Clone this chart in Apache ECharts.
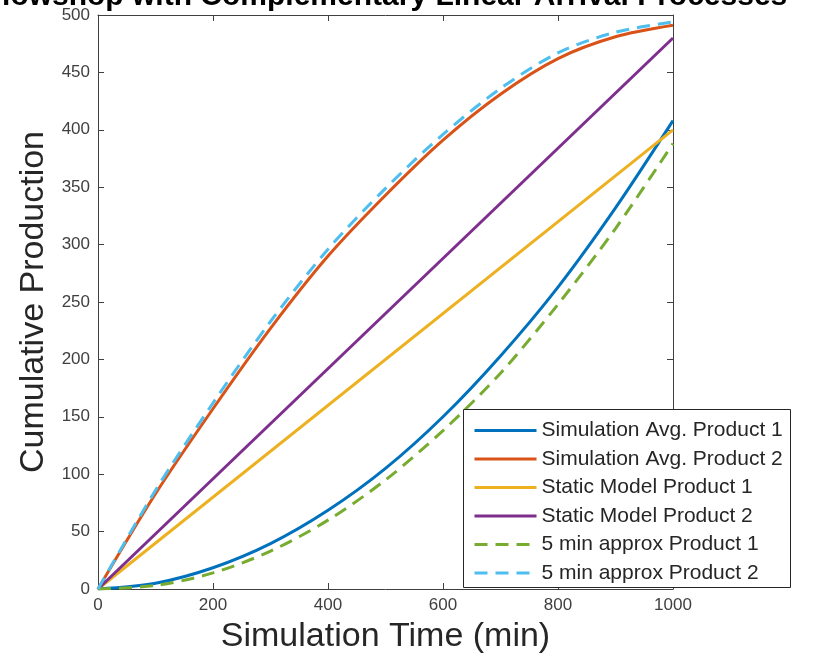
<!DOCTYPE html>
<html>
<head>
<meta charset="utf-8">
<script src="https://cdn.jsdelivr.net/npm/echarts@6/dist/echarts.min.js"></script>
<style>
html,body{margin:0;padding:0;background:#fff;}
#chart{width:813px;height:662px;}
</style>
</head>
<body>
<div id="chart"></div>
<script>
// ---- data ----
const titleText = 'Flowshop with Complementary Linear Arrival Processes';
const xName = 'Simulation Time (min)';
const yName = 'Cumulative Production';
const seriesNames = [
  'Simulation Avg. Product 1',
  'Simulation Avg. Product 2',
  'Static Model Product 1',
  'Static Model Product 2',
  '5 min approx Product 1',
  '5 min approx Product 2'
];
const timeSteps = [0, 100, 200, 300, 400, 500, 600, 700, 800, 900, 1000];
const simAvgP1 = [0, 5, 18.5, 39.5, 68.5, 105, 150, 203, 263, 332, 408];
const simAvgP2 = [0, 83, 157, 227, 290, 343, 391, 431, 462, 481, 491];
const staticTimes = [0, 1000];
const staticP1 = [0, 400];
const staticP2 = [0, 480];
const approxP1 = [0, 3, 14, 33, 60, 95, 138, 188, 248, 314, 388];
const approxP2 = [0, 86, 162, 233, 296, 349, 396, 436, 467, 485, 494];
const xTicks = {min: 0, max: 1000, interval: 200};
const yTicks = {min: 0, max: 500, interval: 50};

// ---- build ----
const pairs = (xs, ys) => xs.map((x, i) => [x, ys[i]]);
const colors = ['#0072BD', '#D95319', '#EDB120', '#7E2F8E', '#77AC30', '#4DBEEE'];
const dash = [13, 8];
const font = 'Liberation Sans, Arial, Helvetica, sans-serif';
const axisColor = '#404040';

const chart = echarts.init(document.getElementById('chart'), null, {renderer: 'canvas'});

function line() { return {show: true, onZero: false, lineStyle: {color: axisColor, width: 1}}; }
function tick() { return {show: true, inside: true, length: 6, lineStyle: {color: axisColor, width: 1}}; }
function label() {
  return {show: true, fontFamily: font, fontSize: 17, color: axisColor, margin: 8,
          formatter: v => String(v)};
}

function mkSeries(i, data, dashed) {
  return {
    name: seriesNames[i],
    type: 'line',
    data: data,
    smooth: data.length > 2 ? 0.3 : false,
    symbol: 'none',
    showSymbol: false,
    animation: false,
    lineStyle: {color: colors[i], width: 3, type: dashed ? dash : 'solid', cap: 'butt'},
    itemStyle: {color: colors[i]},
    emphasis: {disabled: true},
    z: 2
  };
}

const option = {
  animation: false,
  backgroundColor: '#fff',
  grid: {left: 98, right: 140, top: 15, bottom: 73, containLabel: false},
  xAxis: [{
    type: 'value', position: 'bottom', min: xTicks.min, max: xTicks.max, interval: xTicks.interval,
    name: xName, nameLocation: 'middle', nameGap: 31,
    nameTextStyle: {fontFamily: font, fontSize: 34, color: '#262626'},
    axisLine: line(), axisTick: tick(), splitLine: {show: false}, axisLabel: label()
  }, {
    type: 'value', position: 'top', min: xTicks.min, max: xTicks.max, interval: xTicks.interval,
    axisLine: line(), axisTick: tick(), splitLine: {show: false}, axisLabel: {show: false}
  }],
  yAxis: [{
    type: 'value', position: 'left', min: yTicks.min, max: yTicks.max, interval: yTicks.interval,
    name: yName, nameLocation: 'middle', nameGap: 40, nameRotate: 90,
    nameTextStyle: {fontFamily: font, fontSize: 34, color: '#262626'},
    axisLine: line(), axisTick: tick(), splitLine: {show: false}, axisLabel: label()
  }, {
    type: 'value', position: 'right', min: yTicks.min, max: yTicks.max, interval: yTicks.interval,
    axisLine: line(), axisTick: tick(), splitLine: {show: false}, axisLabel: {show: false}
  }],
  legend: {
    orient: 'vertical',
    left: 463, top: 409,
    padding: [11, 0, 0, 10],
    itemWidth: 62, itemHeight: 20, itemGap: 7.5,
    selectedMode: false,
    itemStyle: {opacity: 0, borderWidth: 0},
    lineStyle: {width: 3},
    textStyle: {fontFamily: font, fontSize: 21, color: '#262626'},
    data: seriesNames,
    z: 10
  },
  graphic: [{
    type: 'rect',
    shape: {x: 463.5, y: 409.5, width: 327, height: 178},
    style: {fill: '#fff', stroke: '#262626', lineWidth: 1},
    z: 8
  }, {
    type: 'text',
    x: 385.5, y: 12,
    style: {text: titleText, font: 'bold 30px ' + font, fill: '#000', textAlign: 'center', textVerticalAlign: 'bottom'},
    z: 10
  }],
  series: [
    mkSeries(0, pairs(timeSteps, simAvgP1), false),
    mkSeries(1, pairs(timeSteps, simAvgP2), false),
    mkSeries(2, pairs(staticTimes, staticP1), false),
    mkSeries(3, pairs(staticTimes, staticP2), false),
    mkSeries(4, pairs(timeSteps, approxP1), true),
    mkSeries(5, pairs(timeSteps, approxP2), true)
  ]
};
chart.setOption(option);
</script>
</body>
</html>
